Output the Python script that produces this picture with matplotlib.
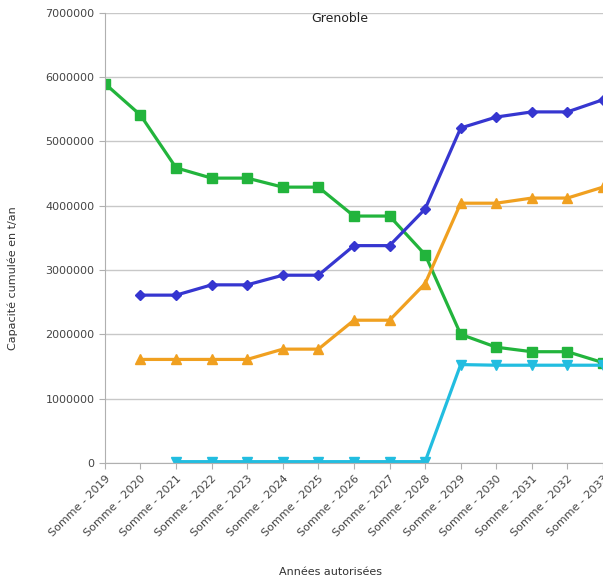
import matplotlib
matplotlib.use("Agg")
import matplotlib.pyplot as plt
import numpy as np

# Données
annees = [f"Somme - {a}" for a in range(2019, 2034)]
vert = [5900000, 5410000, 4590000, 4430000, 4430000, 4290000, 4290000, 3840000,
        3840000, 3240000, 2000000, 1800000, 1730000, 1730000, 1560000]
bleu = [None, 2610000, 2610000, 2770000, 2770000, 2920000, 2920000, 3380000,
        3380000, 3950000, 5210000, 5380000, 5460000, 5460000, 5650000]
orange = [None, 1610000, 1610000, 1610000, 1610000, 1770000, 1770000, 2220000,
          2220000, 2790000, 4040000, 4040000, 4120000, 4120000, 4290000]
cyan = [None, None, 20000, 20000, 20000, 20000, 20000, 20000,
        20000, 20000, 1530000, 1520000, 1520000, 1520000, 1520000]

def serie(v):
    return np.array([np.nan if a is None else a for a in v], dtype=float)

x = np.arange(len(annees))

fig = plt.figure(figsize=(6.03, 5.86), dpi=100)
ax = fig.add_axes([0.174, 0.210, 0.826, 0.768])

ax.plot(x, serie(vert), color="#22b43c", marker="s", markersize=7, linewidth=2.3)
ax.plot(x, serie(bleu), color="#3636d0", marker="D", markersize=5, linewidth=2.3)
ax.plot(x, serie(orange), color="#f0a020", marker="^", markersize=7, linewidth=2.3)
ax.plot(x, serie(cyan), color="#22bde0", marker="v", markersize=7, linewidth=2.3)

ax.set_xlim(0, 14)
ax.set_ylim(0, 7000000)
ax.set_yticks(range(0, 7000001, 1000000))
ax.set_yticklabels([str(v) for v in range(0, 7000001, 1000000)], fontsize=8, color="#444444")
ax.set_xticks(x)
ax.set_xticklabels(annees, rotation=45, ha="right", rotation_mode="anchor",
                   fontsize=8, color="#444444")
ax.tick_params(axis="both", length=4, color="#b0b0b0")
ax.grid(axis="y", color="#c8c8c8", linewidth=1)
ax.set_axisbelow(True)
for s in ["top", "right"]:
    ax.spines[s].set_visible(False)
for s in ["left", "bottom"]:
    ax.spines[s].set_color("#b0b0b0")

ax.set_ylabel("Capacité cumulée en t/an", fontsize=8, color="#333333")
ax.yaxis.set_label_coords(-0.175, 0.41)
fig.text(0.548, 0.018, "Années autorisées", fontsize=8, color="#333333", ha="center")
fig.text(0.564, 0.963, "Grenoble", fontsize=9, color="#222222", ha="center")

plt.savefig("out.png", dpi=100)
